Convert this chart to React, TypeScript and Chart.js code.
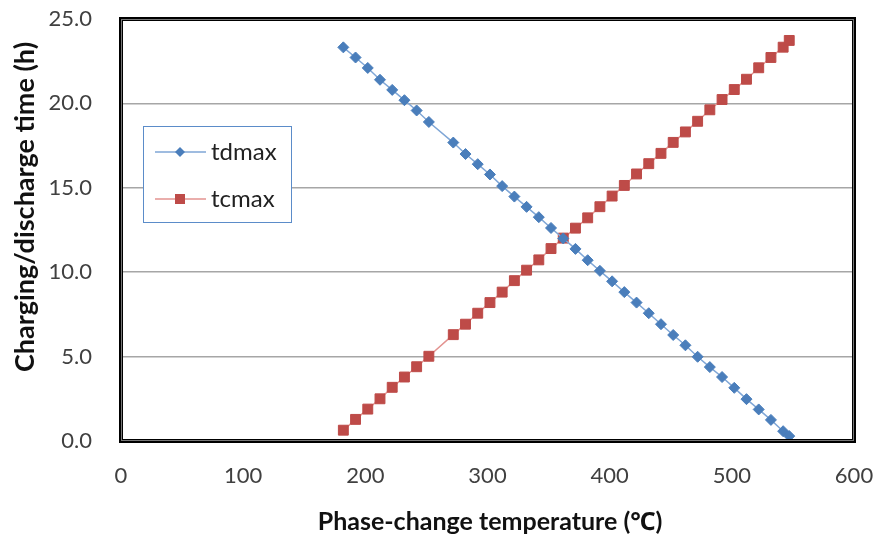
import React, { useEffect, useRef } from "react";
import { Chart, registerables } from "chart.js";

Chart.register(...registerables);

const temperatures = [
  182, 192, 202, 212, 222, 232, 242, 252, 272, 282, 292, 302, 312, 322, 332,
  342, 352, 362, 372, 382, 392, 402, 412, 422, 432, 442, 452, 462, 472, 482,
  492, 502, 512, 522, 532, 542, 547,
];

const tdmax = [
  23.32, 22.72, 22.1, 21.4, 20.8, 20.19, 19.58, 18.9, 17.68, 17.0, 16.4, 15.79,
  15.1, 14.48, 13.87, 13.26, 12.62, 12.0, 11.38, 10.71, 10.08, 9.46, 8.82, 8.2,
  7.57, 6.92, 6.28, 5.67, 4.99, 4.38, 3.79, 3.15, 2.48, 1.87, 1.25, 0.58, 0.29,
];

const tcmax = [
  0.64, 1.28, 1.89, 2.5, 3.18, 3.79, 4.4, 5.02, 6.3, 6.92, 7.57, 8.2, 8.82,
  9.5, 10.12, 10.73, 11.4, 12.02, 12.61, 13.22, 13.88, 14.51, 15.14, 15.82,
  16.43, 17.04, 17.69, 18.31, 18.94, 19.62, 20.23, 20.82, 21.43, 22.11, 22.72,
  23.33, 23.73,
];

const xTicks = [0, 100, 200, 300, 400, 500, 600];
const yTicks = [0, 5, 10, 15, 20, 25];

const seriesNames = ["tdmax", "tcmax"];
const yTitle = "Charging/discharge time (h)";
const xTitle = "Phase-change temperature (\u2103)";

const FONT = "Lato, 'Noto Sans', sans-serif";
const BLUE = "#4a7ebb";
const BLUE_LINE = "#7fa6d6";
const RED = "#be4b48";
const RED_LINE = "#e39390";

const overlay = {
  id: "overlay",
  afterDraw(chart: any) {
    const { ctx, chartArea } = chart;
    const { left, right, top, bottom } = chartArea;
    ctx.save();
    // plot border
    ctx.strokeStyle = "#000";
    ctx.lineWidth = 4;
    ctx.strokeRect(left, top, right - left, bottom - top);
    ctx.strokeStyle = "#777";
    ctx.lineWidth = 1;
    ctx.strokeRect(left + 0.5, top + 0.5, right - left - 1, bottom - top - 1);

    // axis titles
    ctx.fillStyle = "#111";
    ctx.textAlign = "center";
    ctx.textBaseline = "middle";
    ctx.font = "bold 25px " + FONT;
    ctx.fillText(xTitle, 490, 522);
    ctx.save();
    ctx.translate(25, 207);
    ctx.rotate(-Math.PI / 2);
    ctx.font = "bold 27px " + FONT;
    ctx.fillText(yTitle, 0, 0);
    ctx.restore();

    // legend
    const lx = 143, ly = 126, lw = 148, lh = 96;
    ctx.fillStyle = "#fff";
    ctx.fillRect(lx, ly, lw, lh);
    ctx.strokeStyle = "#5b8cc9";
    ctx.lineWidth = 1;
    ctx.strokeRect(lx + 0.5, ly + 0.5, lw, lh);
    const rows = [
      { name: seriesNames[0], y: 152, line: BLUE_LINE, fill: BLUE, diamond: true },
      { name: seriesNames[1], y: 199, line: RED_LINE, fill: RED, diamond: false },
    ];
    rows.forEach((r) => {
      ctx.strokeStyle = r.line;
      ctx.lineWidth = 1.5;
      ctx.beginPath();
      ctx.moveTo(155, r.y);
      ctx.lineTo(206, r.y);
      ctx.stroke();
      ctx.fillStyle = r.fill;
      ctx.beginPath();
      if (r.diamond) {
        ctx.moveTo(180, r.y - 5);
        ctx.lineTo(185, r.y);
        ctx.lineTo(180, r.y + 5);
        ctx.lineTo(175, r.y);
        ctx.closePath();
      } else {
        ctx.rect(175, r.y - 5, 10, 10);
      }
      ctx.fill();
      ctx.fillStyle = "#222";
      ctx.font = "24px " + FONT;
      ctx.textAlign = "left";
      ctx.textBaseline = "middle";
      ctx.fillText(r.name, 211, r.y);
    });
    ctx.restore();
  },
};

export default function App() {
  const ref = useRef<HTMLCanvasElement>(null);
  useEffect(() => {
    if (!ref.current) return;
    const chart = new Chart(ref.current, {
      type: "line",
      data: {
        datasets: [
          {
            label: seriesNames[0],
            data: temperatures.map((t, i) => ({ x: t, y: tdmax[i] })),
            borderColor: BLUE_LINE,
            borderWidth: 1.5,
            pointStyle: "rectRot",
            pointRadius: 5.5,
            pointBackgroundColor: BLUE,
            pointBorderColor: BLUE,
            pointBorderWidth: 1,
            tension: 0,
          },
          {
            label: seriesNames[1],
            data: temperatures.map((t, i) => ({ x: t, y: tcmax[i] })),
            borderColor: RED_LINE,
            borderWidth: 1.5,
            pointStyle: "rect",
            pointRadius: 7,
            pointBackgroundColor: RED,
            pointBorderColor: RED,
            pointBorderWidth: 1,
            tension: 0,
          },
        ],
      },
      options: {
        responsive: false,
        animation: false,
        events: [],
        layout: { padding: { left: 0, right: 23, top: 19, bottom: 0 } },
        plugins: { legend: { display: false }, tooltip: { enabled: false } },
        scales: {
          x: {
            type: "linear",
            min: 0,
            max: 600,
            afterFit: (s: any) => {
              s.height = 98;
              s.paddingLeft = 0;
              s.paddingRight = 0;
              s.paddingTop = 0;
              s.paddingBottom = 0;
            },
            afterBuildTicks: (s: any) => {
              s.ticks = xTicks.map((v) => ({ value: v }));
            },
            grid: { display: false, drawTicks: false },
            border: { display: false },
            ticks: {
              padding: 22,
              color: "#404040",
              font: { family: FONT, size: 22 },
              maxRotation: 0,
              callback: (v: any) => String(v),
            },
          },
          y: {
            type: "linear",
            min: 0,
            max: 25,
            afterFit: (s: any) => {
              s.width = 121;
              s.paddingLeft = 0;
              s.paddingRight = 0;
              s.paddingTop = 0;
              s.paddingBottom = 0;
            },
            afterBuildTicks: (s: any) => {
              s.ticks = yTicks.map((v) => ({ value: v }));
            },
            grid: { color: "#a6a6a6", lineWidth: 1.5, drawTicks: false },
            border: { display: false },
            ticks: {
              padding: 29,
              color: "#404040",
              font: { family: FONT, size: 22 },
              callback: (v: any) => Number(v).toFixed(1),
            },
          },
        },
      },
      plugins: [overlay],
    });
    return () => chart.destroy();
  }, []);
  return (
    <div style={{ position: "fixed", left: 0, top: 0, width: 877, height: 539, background: "#fff" }}>
      <canvas ref={ref} width={877} height={539} />
    </div>
  );
}
